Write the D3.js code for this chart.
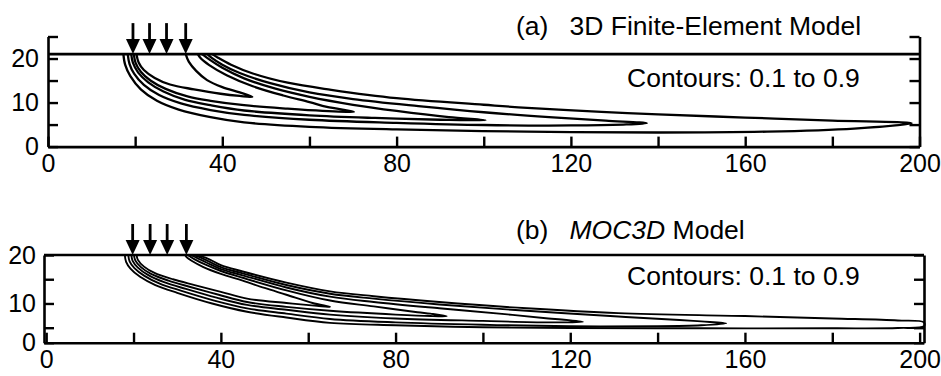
<!DOCTYPE html>
<html>
<head>
<meta charset="utf-8">
<script src="https://cdn.jsdelivr.net/npm/d3@7/dist/d3.min.js"></script>
<style>
  body { margin: 0; background: #fff; }
  svg { display: block; font-family: "Liberation Sans", Arial, Helvetica, sans-serif; }
</style>
</head>
<body>
<svg width="941" height="376"></svg>
<script>
// horizontal distance and depth ticks
const xTickValues = [0, 20, 40, 60, 80, 100, 120, 140, 160, 180, 200];
const yTicksA = [0, 5, 10, 15, 20, 25];
const yTicksB = [0, 5, 10, 15, 20];

// source arrows (x positions) and water table elevation
const arrowsA = [19.5, 23.3, 27.2, 31.6];
const arrowsB = [19.8, 23.8, 27.7, 32.1];
const surfaceA = 21;
const surfaceB = 20;

// contour levels 0.1 .. 0.9, each a tongue: lower branch -> tip -> upper branch
const contoursA = [
  [[17.3,21],[17.7,18.6],[18.9,16],[21.3,13],[25,10.4],[30,8.4],[37.3,6.7],[45,5.5],[60,4.5],[80,3.9],[110,3.4],[140,3.2],[165,3.4],[185,4.1],[198.2,5.3],
   [180,5.9],[160,6.6],[140,7.3],[127,7.9],[110,8.8],[100,9.5],[80,11],[65,12.9],[55,14.5],[47,16.6],[42,18.6],[39,20.2],[37.7,21]],
  [[18.3,21],[18.7,18.8],[19.8,16.5],[22,14],[25.5,11.7],[30.5,9.8],[37.3,8.3],[45,7.2],[60,6.1],[80,5.4],[100,4.9],[120,4.8],[132,5.0],[137.4,5.3],
   [128,5.9],[115,6.7],[100,7.8],[85,9.2],[70,10.8],[60,12.3],[51,14.4],[44,16.7],[40,18.6],[37.5,20.2],[36.6,21]],
  [[19.1,21],[19.5,19],[20.7,16.8],[23,14.6],[26.5,12.5],[31.5,10.6],[37.3,9.4],[45,8.2],[60,7.1],[75,6.5],[90,6.1],[100.4,6.0],
   [92,6.7],[80,8.1],[70,9.5],[60,11.3],[52,13.2],[45,15.5],[40,17.9],[37,19.8],[35.4,21]],
  [[19.7,21],[20.1,19],[21.3,17],[23.5,15],[27,13.1],[32,11.4],[37.3,10.4],[45,9.4],[55,8.6],[63,8.1],[70.2,7.9],
   [64,9.0],[60,10.1],[54,11.6],[47,13.7],[41,16.2],[37,18.5],[35,20.1],[34.4,21]],
  [[20.3,21],[20.8,19.1],[22,17.4],[24.5,15.6],[28,14.1],[33.5,13],[39.6,12],[44,11.5],[46.9,11.3],
   [44,12.3],[40,13.5],[36.5,15.1],[34,17.2],[32.3,19.3],[31.6,21]]
];

const contoursB = [
  [[18,20],[18.3,18.6],[19.3,17.2],[21.5,15.5],[25,13.8],[30,12.2],[38,10.0],[46,8.3],[55,7.1],[65,6.0],[80,5.5],[100,5.1],[120,4.9],[150,4.8],[180,4.8],[195,4.9],[201,5.3],
   [201,6.1],[195,6.5],[180,6.9],[160,7.4],[131,8.0],[110,9.0],[90,10.3],[75,11.5],[65,12.5],[55,14.3],[45,16.6],[40,17.9],[37.6,19],[35.6,19.7],[34.4,20]],
  [[18.8,20],[19.1,18.7],[20.2,17.3],[22.5,15.7],[26,14.1],[31,12.6],[38.5,10.6],[46,9.0],[55,7.9],[65,6.8],[80,6.1],[100,5.6],[120,5.3],[140,5.3],[150,5.5],[155.7,5.9],
   [150,6.3],[145,6.6],[131,7.3],[110,8.5],[90,9.8],[75,11.0],[65,12.0],[55,13.8],[45,16.2],[40,17.5],[37.2,18.7],[35,19.6],[33.7,20]],
  [[19.5,20],[19.8,18.8],[21,17.4],[23.3,15.9],[27,14.4],[32,13.0],[39,11.2],[46,9.7],[55,8.7],[65,7.7],[80,6.9],[100,6.4],[115,6.1],[122.9,6.2],
   [118,6.7],[115,6.9],[105,7.8],[90,9.0],[75,10.3],[65,11.4],[55,13.3],[45,15.8],[40,17.1],[36.8,18.4],[34.5,19.4],[33,20]],
  [[20.1,20],[20.4,18.9],[21.7,17.5],[24,16.1],[28,14.7],[33,13.4],[39.5,11.8],[46,10.3],[55,9.3],[65,8.5],[80,7.7],[88,7.4],[91.7,7.4],
   [88,7.9],[85,8.2],[75,9.4],[65,10.6],[55,12.7],[45,15.3],[40,16.7],[36.5,18],[34,19.1],[32.4,20]],
  [[20.7,20],[21,19],[22.4,17.6],[24.8,16.3],[29,15],[34,13.8],[40,12.4],[46,11.0],[55,10.1],[62,9.5],[65,9.3],
   [61,10.1],[55,11.8],[50,13.2],[45,14.7],[40,16.1],[36,17.5],[33.3,18.8],[32.2,19.5],[31.8,20]]
];

const svg = d3.select('svg');

const styleAxis = (g) => {
  g.select('.domain').attr('stroke', '#000').attr('stroke-width', 2.6);
  g.selectAll('.tick line').attr('stroke', '#000').attr('stroke-width', 2.4);
  g.selectAll('.tick text').attr('fill', '#000').style('font-size', '25px')
    .style('font-family', '"Liberation Sans", Arial, Helvetica, sans-serif');
  g.attr('font-size', null).attr('font-family', null);
};

const drawPanel = ({ x, y, yTicks, surface, arrows, contours, lineWidth, label, title, italic, titleY, noteY, yLabelPad }) => {
  const g = svg.append('g');
  const yBottom = y.domain()[0];
  const [xLeft, xRight] = x.domain();

  // bottom axis
  g.append('g')
    .attr('transform', `translate(0,${y(yBottom)})`)
    .call(d3.axisBottom(x).tickValues(xTickValues).tickSize(-10).tickSizeOuter(0).tickPadding(8)
      .tickFormat(d => d % 40 === 0 ? d : ''))
    .call(styleAxis);

  // left axis
  g.append('g')
    .attr('transform', `translate(${x(xLeft)},0)`)
    .call(d3.axisLeft(y).tickValues(yTicks).tickSize(-10).tickSizeOuter(0).tickPadding(yLabelPad)
      .tickFormat(d => d % 10 === 0 && d <= 20 ? d : ''))
    .call(styleAxis);

  // right axis
  g.append('g')
    .attr('transform', `translate(${x(xRight)},0)`)
    .call(d3.axisRight(y).tickValues(yTicks).tickSize(-10).tickSizeOuter(0).tickFormat(''))
    .call(styleAxis);

  // water table
  g.append('line')
    .attr('x1', x(xLeft)).attr('x2', x(xRight))
    .attr('y1', y(surface)).attr('y2', y(surface))
    .attr('stroke', '#000').attr('stroke-width', 2.6);

  // contours
  const line = d3.line()
    .x(d => x(d[0]))
    .y(d => y(d[1]))
    .curve(d3.curveCatmullRom.alpha(0.5));

  g.append('g')
    .selectAll('path')
    .data(contours)
    .enter().append('path')
      .attr('d', line)
      .attr('fill', 'none')
      .attr('stroke', '#000')
      .attr('stroke-width', lineWidth)
      .attr('stroke-linejoin', 'round');

  // source arrows
  const arrow = g.append('g')
    .selectAll('g')
    .data(arrows)
    .enter().append('g')
      .attr('transform', d => `translate(${x(d)},${y(surface)})`);
  arrow.append('line')
    .attr('x1', 0).attr('x2', 0).attr('y1', -31).attr('y2', -12)
    .attr('stroke', '#000').attr('stroke-width', 2.8);
  arrow.append('path')
    .attr('d', 'M-7,-15L7,-15L0,0Z')
    .attr('fill', '#000');

  // titles
  const t = g.append('text')
    .attr('x', 516).attr('y', titleY)
    .style('font-size', '26.5px').attr('fill', '#000');
  t.append('tspan').text(label);
  t.append('tspan').attr('x', 569.5).attr('font-style', italic ? 'italic' : null).text(title[0]);
  if (title[1]) t.append('tspan').text(title[1]);

  g.append('text')
    .attr('x', 627).attr('y', noteY)
    .style('font-size', '26.5px').attr('fill', '#000')
    .text('Contours: 0.1 to 0.9');
};

drawPanel({
  x: d3.scaleLinear().domain([0, 200]).range([48, 919.5]),
  y: d3.scaleLinear().domain([0, 25]).range([146.6, 36.5]),
  yTicks: yTicksA,
  surface: surfaceA,
  arrows: arrowsA,
  contours: contoursA,
  lineWidth: 2.3,
  label: '(a)',
  title: ['3D Finite-Element Model'],
  italic: false,
  titleY: 35,
  noteY: 86.5,
  yLabelPad: 9
});

drawPanel({
  x: d3.scaleLinear().domain([-0.5, 201]).range([44, 924]),
  y: d3.scaleLinear().domain([0, 5, 20]).range([342.7, 327.7, 255]),
  yTicks: yTicksB,
  surface: surfaceB,
  arrows: arrowsB,
  contours: contoursB,
  lineWidth: 1.9,
  label: '(b)',
  title: ['MOC3D', ' Model'],
  italic: true,
  titleY: 239.3,
  noteY: 285.3,
  yLabelPad: 8
});
</script>
</body>
</html>
